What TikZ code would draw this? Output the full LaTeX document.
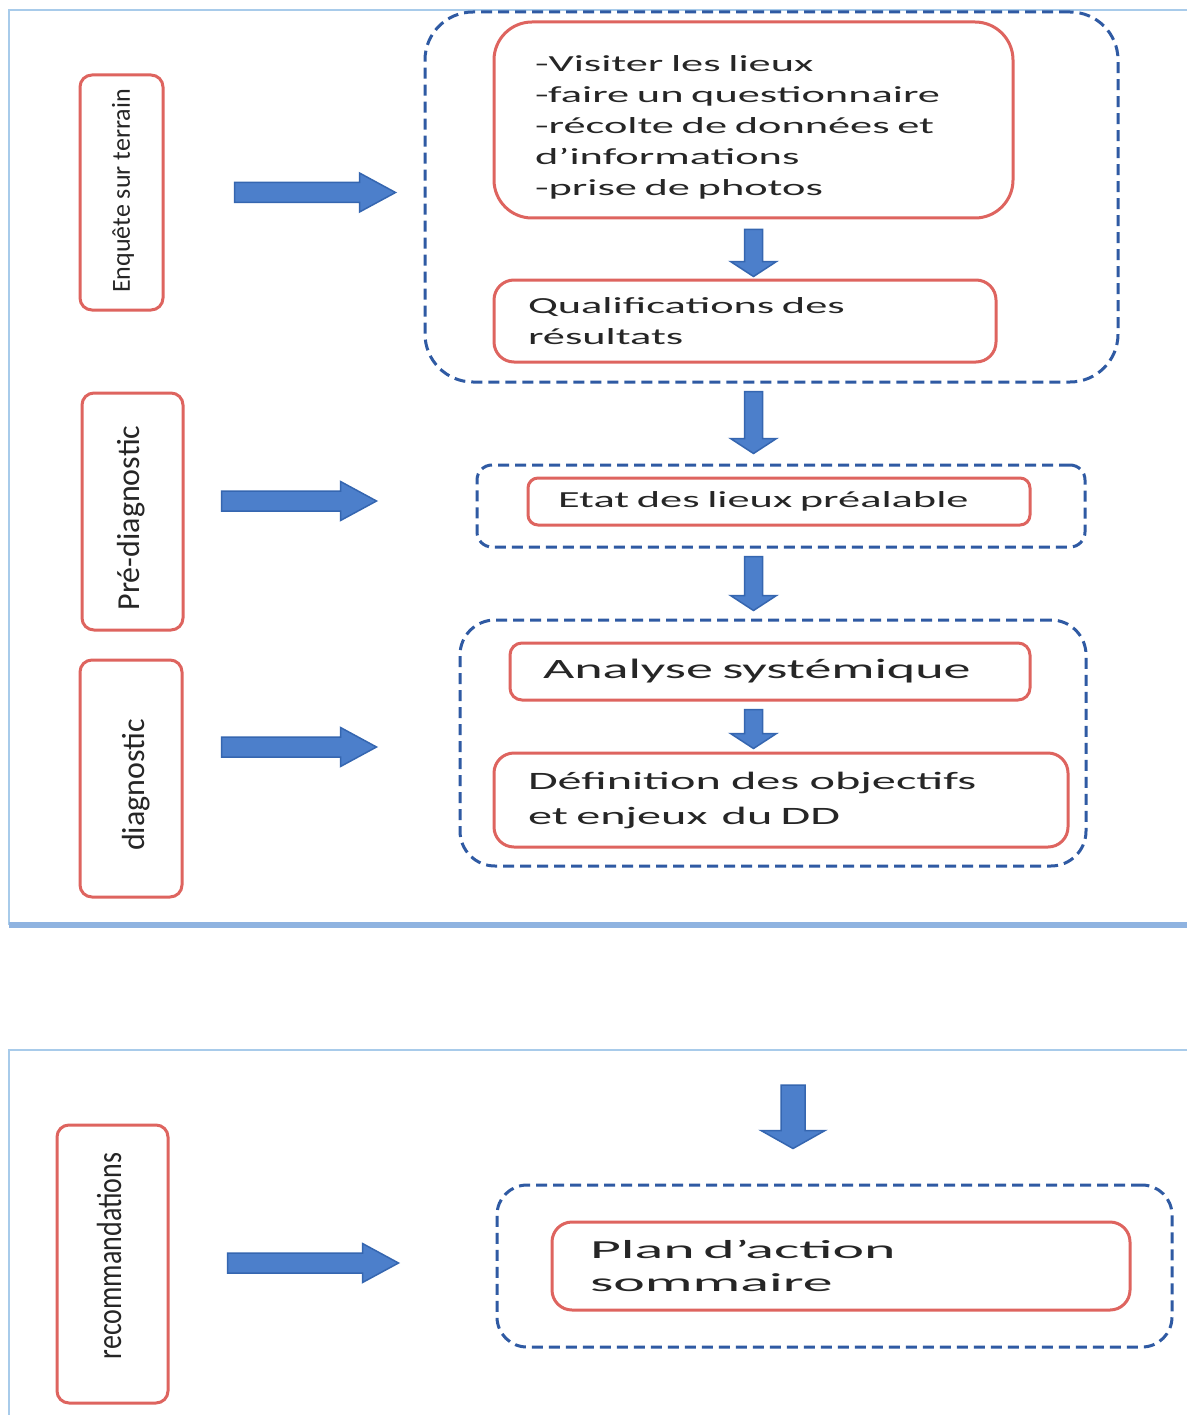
\documentclass[tikz,border=0pt]{standalone}
\usepackage{fontspec}
\usetikzlibrary{calc}
\newfontfamily\wideA[FakeStretch=1.93]{Carlito}
\newfontfamily\wideB[FakeStretch=2.3]{Carlito}
\newfontfamily\narA{Carlito}
\newfontfamily\narB[FakeStretch=0.8]{Carlito}
\definecolor{redline}{HTML}{DE645F}
\definecolor{dashblue}{HTML}{2F5AA3}
\definecolor{arrfill}{HTML}{4C7FCB}
\definecolor{arrdraw}{HTML}{3566B0}
\definecolor{panelc}{HTML}{A8CBEA}
\definecolor{panelk}{HTML}{8FB3E0}
\definecolor{txt}{HTML}{262626}
\begin{document}
\begin{tikzpicture}[x=1pt,y=-1pt,
  rbox/.style={draw=redline, line width=3pt, rounded corners=#1, inner sep=0pt, text=txt, align=left},
  rbox/.default=20pt,
  lbox/.style={draw=redline, line width=3pt, rounded corners=12pt, inner sep=0pt},
  ltext/.style={text=txt, inner sep=0pt, rotate=90},
  cbox/.style={draw=dashblue, line width=3pt, dash pattern=on 11pt off 6pt, rounded corners=#1, inner sep=0pt},
  cbox/.default=30pt,
  blockarrow/.style={fill=arrfill, draw=arrdraw, line width=1.5pt, line join=miter},
  harrow/.style={to path={let \p1=(\tikztostart), \p2=(\tikztotarget) in
     (\x1,\y1+10pt) -- (\x2-36pt,\y1+10pt) -- (\x2-36pt,\y1+19.5pt) -- (\x2,\y1)
     -- (\x2-36pt,\y1-19.5pt) -- (\x2-36pt,\y1-10pt) -- (\x1,\y1-10pt) -- cycle}},
  varrow/.style={to path={let \p1=(\tikztostart), \p2=(\tikztotarget) in
     (\x1-9pt,\y1) -- (\x1+9pt,\y1) -- (\x1+9pt,\y2+15pt) -- (\x1+23pt,\y2+15pt) -- (\x1,\y2)
     -- (\x1-23pt,\y2+15pt) -- (\x1-9pt,\y2+15pt) -- cycle}},
  bigvarrow/.style={to path={let \p1=(\tikztostart), \p2=(\tikztotarget) in
     (\x1-12pt,\y1) -- (\x1+12pt,\y1) -- (\x1+12pt,\y2+18pt) -- (\x1+32pt,\y2+18pt) -- (\x1,\y2)
     -- (\x1-32pt,\y2+18pt) -- (\x1-12pt,\y2+18pt) -- cycle}},
  panelline/.style={draw=panelc, line width=2pt}
]
\fill[white] (0,0) rectangle (1187,1415);
\useasboundingbox (0,0) rectangle (1187,1415);

% panels
\draw[panelline] (1187,10) -- (9,10) -- (9,925);
\draw[draw=panelk, line width=6pt] (9,925) -- (1187,925);
\draw[panelline] (1187,1050) -- (9,1050) -- (9,1415);

% left label boxes
\node[lbox, minimum width=83pt, minimum height=235pt] (L1) at (121.5,192.5) {};
\node[ltext, font=\narA\fontsize{26}{30}\selectfont] (L1t) at (123,191) {Enquête sur terrain};
\node[lbox, minimum width=101pt, minimum height=237pt] (L2) at (132.5,511.5) {};
\node[ltext, font=\narA\fontsize{32}{36}\selectfont] (L2t) at (131,518) {Pré-diagnostic};
\node[lbox, minimum width=102pt, minimum height=237pt] (L3) at (131,778.5) {};
\node[ltext, font=\narA\fontsize{32}{36}\selectfont] (L3t) at (136,785) {diagnostic};
\node[lbox, minimum width=111pt, minimum height=278pt] (L4) at (112.5,1264) {};
\node[ltext, font=\narB\fontsize{35}{38}\selectfont] (L4t) at (109,1256) {recommandations};

% dashed containers
\node[cbox=48pt, minimum width=693pt, minimum height=370pt] (C1) at (771.5,197) {};
\node[cbox=15pt, minimum width=608pt, minimum height=82pt] (C2) at (781,506) {};
\node[cbox=35pt, minimum width=626pt, minimum height=246pt] (C3) at (773,743) {};
\node[cbox=30pt, minimum width=675pt, minimum height=162pt] (C4) at (834.5,1266) {};

% red boxes
\node[rbox=38pt, minimum width=519pt, minimum height=196pt, text width=437pt,
      font=\wideA\fontsize{23}{31}\selectfont] (R1) at (753.5,120)
  {\rule{0pt}{30pt}-Visiter les lieux\\-faire un questionnaire\\-récolte de données et\\d’informations\\-prise de photos};
\node[rbox=20pt, minimum width=502pt, minimum height=82pt, text width=434pt,
      font=\wideA\fontsize{23}{31}\selectfont] (R2) at (745,321)
  {Qualifications des\\résultats};
\node[rbox=10pt, minimum width=502pt, minimum height=47pt, text width=442pt,
      font=\wideA\fontsize{23}{31}\selectfont] (R3) at (779,501.5)
  {Etat des lieux préalable};
\node[rbox=12pt, minimum width=520pt, minimum height=57pt, text width=454pt,
      font=\wideA\fontsize{28}{34}\selectfont] (R4) at (770,671.5)
  {Analyse systémique};
\node[rbox=20pt, minimum width=574pt, minimum height=94pt, text width=506pt,
      font=\wideA\fontsize{25}{35}\selectfont] (R5) at (781,800)
  {Définition\hspace{2pt} des\hspace{2pt} objectifs\\et enjeux\hspace{6pt} du DD};
\node[rbox=20pt, minimum width=578pt, minimum height=88pt, text width=502pt,
      font=\wideB\fontsize{26}{33}\selectfont] (R6) at (841,1266)
  {Plan d’action\\sommaire};

% vertical arrows
\coordinate (ax) at (753.5,0);
\draw[blockarrow, varrow] ($(ax |- R1.south)+(0,10)$) to ($(ax |- R2.north)+(0,-2)$);
\draw[blockarrow, varrow] ($(ax |- C1.south)+(0,8)$) to ($(ax |- C2.north)+(0,-10)$);
\draw[blockarrow, varrow] ($(ax |- C2.south)+(0,8)$) to ($(ax |- C3.north)+(0,-8)$);
\draw[blockarrow, varrow] ($(ax |- R4.south)+(0,8)$) to ($(ax |- R5.north)+(0,-3)$);
\coordinate (v5top) at (793,1085);
\draw[blockarrow, bigvarrow] (v5top) to ($(v5top |- C4.north)+(0,-35)$);

% horizontal arrows
\draw[blockarrow, harrow] ($(L1.east)+(70,0)$) to ($(L1.east -| C1.west)+(-28,0)$);
\draw[blockarrow, harrow] ($(L2.east |- C2.west)+(37,-5)$) to ($(C2.west)+(-99,-5)$);
\draw[blockarrow, harrow] ($(L3.east |- C3.west)+(38,4)$) to ($(C3.west)+(-82,4)$);
\draw[blockarrow, harrow] ($(L4.east)+(58,-1)$) to ($(L4.east -| C4.west)+(-97,-1)$);
\end{tikzpicture}
\end{document}
